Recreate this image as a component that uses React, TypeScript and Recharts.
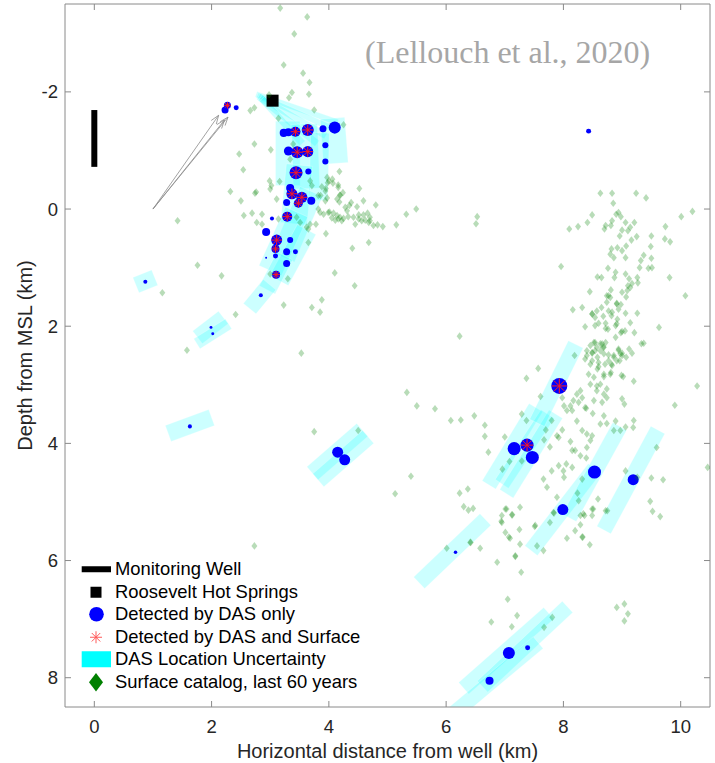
import React from "react";
import { ComposedChart, Scatter, XAxis, YAxis, ZAxis, ReferenceLine } from "recharts";

// detected events: x (km), depth (km), relative magnitude, also in surface catalog (1/0)
const dasEvents: [number, number, number, number][] = [
  [2.27, -1.77, 0.54, 1], [2.23, -1.69, 0.54, 0], [2.42, -1.73, 0.25, 0],
  [3.23, -1.3, 0.72, 0], [3.31, -1.31, 0.72, 0], [3.43, -1.32, 1.15, 1], [3.64, -1.35, 1.68, 1],
  [3.9, -1.37, 0.54, 0], [4.1, -1.39, 1.68, 0], [3.94, -1.09, 0.39, 0], [3.94, -0.81, 0.39, 0],
  [3.31, -0.99, 0.92, 0], [3.46, -0.97, 1.68, 1], [3.64, -0.98, 1.4, 1], [3.44, -0.62, 1.98, 1],
  [3.65, -0.64, 0.39, 0], [3.34, -0.36, 0.72, 0], [3.37, -0.26, 1.4, 1], [3.54, -0.2, 1.4, 1],
  [3.7, -0.14, 0.72, 0], [3.28, -0.11, 0.54, 0], [3.48, -0.1, 0.92, 1], [3.29, 0.13, 1.15, 1],
  [3.03, 0.16, 0.15, 0], [2.93, 0.39, 0.72, 0], [3.11, 0.53, 1.4, 1], [3.34, 0.53, 0.39, 0],
  [3.09, 0.68, 0.72, 1], [3.28, 0.73, 0.54, 0], [3.43, 0.73, 0.25, 0], [3.09, 0.8, 0.25, 0],
  [2.93, 0.83, 0.0, 0], [3.28, 0.93, 0.54, 0], [3.1, 1.12, 0.72, 1],
  [0.87, 1.24, 0.15, 0], [2.84, 1.47, 0.15, 0], [1.99, 2.02, 0.06, 0], [2.02, 2.13, 0.06, 0],
  [1.63, 3.71, 0.15, 0], [4.15, 4.15, 1.4, 0], [4.27, 4.28, 1.4, 0], [6.16, 5.86, 0.1, 0],
  [7.93, 3.02, 3.0, 1], [7.38, 4.03, 1.98, 1], [7.16, 4.09, 1.98, 0], [7.47, 4.24, 1.98, 0],
  [8.53, 4.49, 1.98, 0], [9.19, 4.62, 1.4, 0], [7.99, 5.13, 1.4, 0],
  [7.07, 7.58, 1.68, 0], [7.39, 7.49, 0.25, 0], [6.74, 8.05, 0.72, 0], [8.43, -1.33, 0.25, 0],
];

// DAS location uncertainty: centre line ends (km) and band width (km)
const uncertaintyBands: [number, number, number, number, number][] = [
  [2.76, -1.96, 4.15, -1.48, 0.1], [2.78, -1.94, 4.05, -1.38, 0.1], [2.8, -1.92, 3.95, -1.25, 0.12],
  [2.83, -1.9, 3.8, -1.12, 0.12], [2.86, -1.88, 3.55, -1.12, 0.12],
  [4.06, -1.55, 4.12, -0.78, 0.42], [3.3, -1.5, 3.3, -0.4, 0.42], [3.58, -1.45, 3.62, -0.35, 0.45],
  [3.85, -1.3, 3.82, -0.15, 0.32], [3.5, -0.75, 3.4, 0.25, 0.45], [3.7, -0.3, 3.22, 0.82, 0.42],
  [3.45, 0.05, 3.0, 1.05, 0.42], [3.62, 0.35, 3.15, 1.22, 0.36], [3.25, 0.8, 2.95, 1.38, 0.3],
  [0.71, 1.3, 1.03, 1.17, 0.28], [2.65, 1.7, 2.99, 1.29, 0.28], [1.76, 2.19, 2.2, 1.85, 0.27],
  [1.75, 2.3, 2.29, 1.96, 0.2], [1.26, 3.83, 2.0, 3.56, 0.29], [3.72, 4.51, 4.57, 3.77, 0.29],
  [3.82, 4.63, 4.67, 3.89, 0.29], [5.54, 6.38, 6.67, 5.3, 0.27], [6.73, 4.71, 7.53, 3.39, 0.27],
  [6.95, 4.69, 7.73, 3.5, 0.27], [7.03, 4.86, 7.87, 3.5, 0.27], [7.55, 3.65, 8.21, 2.31, 0.28],
  [7.45, 5.83, 8.53, 4.43, 0.27], [8.1, 5.27, 8.96, 3.71, 0.27], [8.69, 5.48, 9.61, 3.77, 0.27],
  [6.3, 8.18, 7.75, 6.9, 0.26], [6.62, 8.15, 8.07, 6.79, 0.26], [5.9, 8.8, 7.57, 7.4, 0.26],
];

const hotSprings: [number, number][] = [[3.04, -1.85]];
const wellTop = -1.69;
const wellBottom = -0.72;
const arrowStart: [number, number] = [1.0, 0.0];
const arrowEnds: [number, number][] = [[2.12, -1.6], [2.28, -1.57], [2.22, -1.52]];

// surface catalog, last 60 years
const catalogNorth: [number, number][] = [
  [3.17, -3.43], [3.63, -3.28], [3.41, -2.99], [3.23, -2.46], [3.56, -2.32], [3.67, -2.16],
  [3.37, -1.99], [3.32, -1.9], [3.66, -1.96], [2.98, -1.95], [3.75, -1.69], [2.73, -1.73],
  [2.66, -1.68], [3.14, -1.55], [4.25, -1.44], [2.73, -1.11], [2.47, -0.94], [2.54, -0.67],
  [3.01, -1.01], [3.39, -1.11], [3.34, -0.85], [4.18, -0.64], [2.99, -0.48], [3.16, -0.47],
];
const catalogWest: [number, number][] = [
  [2.32, -0.3], [2.5, -0.14], [2.76, -0.29], [2.74, -0.27], [2.69, 0.07], [2.55, 0.11],
  [2.77, 0.23], [1.42, 0.2], [2.86, 0.09], [2.86, 0.26], [3.02, -0.4], [3.0, -0.34],
  [3.11, -0.17], [3.14, 0.17], [3.45, 0.14], [1.76, 0.96], [2.17, 1.14], [1.16, 1.43],
  [2.41, 1.8], [1.58, 2.41], [3.0, 1.11], [3.3, 1.19], [3.23, 1.64], [3.71, 1.68],
  [3.85, 1.76], [3.88, 1.55], [3.53, 2.46], [2.73, 5.75],
];
const catalogStream: [number, number][] = [
  [3.97, -0.54], [4.06, -0.51], [3.98, -0.45], [4.07, -0.44], [4.16, -0.41], [4.52, -0.35],
  [3.94, -0.31], [3.95, -0.35], [3.86, -0.23], [3.97, -0.19], [4.19, -0.24], [4.24, -0.28],
  [4.18, -0.12], [4.59, -0.14], [4.8, -0.07], [4.38, -0.11], [4.35, -0.06], [4.28, -0.03],
  [4.31, 0.03], [4.48, -0.04], [5.49, 0.0], [5.32, 0.09], [3.85, 0.06], [3.91, 0.09],
  [4.01, 0.05], [4.08, 0.07], [4.14, 0.11], [4.19, 0.14], [4.25, 0.16], [4.33, 0.13],
  [4.42, 0.14], [4.51, 0.1], [4.59, 0.1], [4.66, 0.07], [4.7, 0.14], [4.68, 0.23],
  [4.76, 0.28], [4.83, 0.27], [4.92, 0.3], [5.15, 0.27], [4.05, 0.15], [4.11, 0.19],
  [4.16, 0.17], [4.22, 0.2], [4.51, 0.17], [4.56, 0.2], [4.62, 0.19], [4.7, 0.2],
  [3.62, 0.31], [3.65, 0.34], [3.78, 0.26], [4.45, 0.26], [3.95, 0.42], [3.65, 0.57],
  [4.4, 0.67], [4.68, 0.57], [4.1, 1.09], [4.44, 1.31], [3.82, 0.0], [3.99, 0.06],
  [3.68, 0.26], [3.51, 0.23], [4.0, -0.48], [3.88, -0.38], [4.14, -0.17], [3.94, -0.14],
  [4.19, -0.23], [4.16, -0.37], [3.82, -0.23], [3.68, -0.48], [3.71, -0.4],
];
const catalogEast: [number, number][] = [
  [6.53, 0.13], [6.51, 0.25], [6.23, 2.17], [8.63, -0.27], [8.83, -0.27], [9.24, -0.27],
  [9.41, -0.19], [8.85, -0.1], [8.49, 0.1], [8.41, 0.23], [8.25, 0.3], [8.1, 0.34],
  [8.94, 0.06], [8.98, 0.13], [8.9, 0.09], [8.83, 0.2], [8.81, 0.28], [8.7, 0.34],
  [8.72, 0.28], [9.06, 0.23], [9.1, 0.37], [9.0, 0.36], [9.14, 0.31], [9.21, 0.23],
  [9.16, 0.53], [9.25, 0.47], [9.5, 0.46], [9.74, 0.3], [9.73, 0.51], [9.82, 0.56],
  [10.01, 0.13], [10.2, 0.04], [8.96, 0.46], [8.82, 0.68], [8.92, 0.66], [9.0, 0.71],
  [9.07, 0.63], [9.49, 0.64], [8.8, 0.77], [8.86, 0.83], [9.06, 0.83], [9.5, 0.84],
  [9.32, 0.88], [9.37, 0.79], [9.51, 1.0], [9.3, 1.0], [8.76, 1.01], [8.89, 1.08],
  [8.87, 1.17], [8.65, 1.17], [8.58, 1.16], [9.06, 1.11], [9.12, 1.19], [9.17, 1.27],
  [9.26, 1.17], [9.27, 1.26], [9.45, 1.01], [9.81, 1.17], [9.1, 1.31], [9.0, 1.42],
  [8.77, 1.48], [8.81, 1.38], [8.45, 1.41], [7.96, 0.98], [10.08, 1.48], [8.74, 1.59],
  [8.91, 1.61], [8.94, 1.71], [9.06, 1.78], [8.98, 1.63], [8.77, 1.74], [8.57, 1.74],
  [8.68, 1.83], [8.65, 1.68], [8.32, 1.68], [8.16, 1.72], [8.49, 1.79], [8.82, 1.82],
  [8.92, 1.88], [9.26, 1.78], [9.63, 2.02], [9.14, 1.94], [8.54, 1.99], [8.37, 2.01],
  [8.72, 1.95], [8.89, 1.99], [8.98, 2.11], [9.05, 2.08], [8.76, 2.05], [9.21, 2.11],
  [9.33, 2.3], [9.12, 2.39], [9.17, 2.46], [9.0, 2.46], [9.07, 2.53], [8.86, 2.53],
  [8.94, 2.41], [8.96, 2.59], [8.66, 2.3], [8.69, 2.36], [8.63, 2.42], [8.54, 2.28],
  [8.46, 2.33], [8.4, 2.42], [8.49, 2.46], [8.77, 2.49], [8.82, 2.65], [8.71, 2.65],
  [8.58, 2.53], [8.6, 2.69], [8.37, 2.56], [8.46, 2.65], [8.19, 2.5], [7.57, 2.72],
  [7.37, 2.89], [9.14, 1.34], [9.09, 1.39], [9.07, 1.5], [8.91, 1.62], [8.83, 1.76],
  [8.74, 1.48], [8.8, 1.51], [9.37, 2.29], [9.0, 2.5], [8.99, 2.84], [8.6, 1.95],
  [8.54, 1.85], [8.49, 1.79], [8.72, 2.04], [8.91, 1.96], [9.0, 2.09], [8.89, 2.19],
  [8.52, 2.28], [8.57, 2.36], [8.63, 2.3], [8.68, 2.36], [8.72, 2.28], [8.49, 2.45],
  [8.54, 2.42], [8.4, 2.5], [8.49, 2.59], [8.6, 2.62], [8.69, 2.47], [8.77, 2.59],
  [8.86, 2.5], [8.83, 2.67], [8.91, 2.59], [8.94, 2.39], [8.97, 2.47], [8.81, 2.79],
  [8.69, 2.82], [8.58, 2.73], [8.43, 2.82], [8.52, 2.87],
];
const catalogSouth: [number, number][] = [
  [7.61, 3.2], [9.2, 2.94], [9.02, 2.86], [10.28, 3.02], [9.9, 3.35], [8.69, 2.86],
  [8.8, 2.82], [8.57, 3.02], [8.46, 2.99], [8.63, 2.99], [8.74, 3.07], [8.23, 3.16],
  [8.17, 3.27], [8.12, 3.36], [8.29, 3.1], [8.06, 3.44], [8.15, 3.44], [8.26, 3.3],
  [8.32, 3.22], [8.37, 3.39], [7.98, 3.22], [8.01, 3.36], [8.52, 3.27], [8.66, 3.3],
  [8.74, 3.22], [8.69, 3.16], [8.57, 3.1], [9.0, 3.24], [9.04, 3.33], [8.39, 3.4],
  [8.5, 3.49], [8.69, 3.53], [8.63, 3.67], [8.74, 3.66], [8.89, 3.62], [8.86, 3.78],
  [8.97, 3.78], [9.06, 3.72], [8.23, 3.62], [8.32, 3.78], [8.4, 3.84], [8.49, 3.87],
  [8.46, 3.95], [7.98, 3.77], [7.89, 3.87], [7.92, 3.9], [7.67, 3.94], [7.77, 4.06],
  [7.7, 3.77], [7.8, 3.61], [8.12, 3.97], [8.15, 4.12], [8.2, 4.12], [8.29, 4.21],
  [8.39, 4.25], [8.4, 4.07], [8.05, 4.35], [8.0, 4.47], [8.01, 4.58], [8.15, 4.41],
  [7.8, 4.47], [7.66, 4.61], [7.72, 4.75], [8.32, 4.61], [8.24, 4.85], [8.26, 4.98],
  [8.34, 5.2], [8.29, 5.23], [8.2, 5.49], [8.59, 4.95], [8.51, 5.12], [8.49, 5.23],
  [8.75, 5.15], [7.89, 4.92], [7.77, 5.35], [7.83, 5.18], [7.52, 5.4], [7.55, 5.75],
  [7.66, 5.83], [8.06, 5.62], [8.32, 5.6], [8.45, 5.73], [7.26, 5.09], [7.12, 5.22],
  [7.01, 5.12], [6.95, 5.23], [6.95, 5.35], [7.01, 5.52], [7.07, 5.6], [7.26, 5.72],
  [7.18, 5.92], [6.58, 5.79], [6.41, 5.69], [6.3, 5.08], [6.38, 5.14], [6.46, 5.11],
  [6.23, 4.85], [6.37, 4.78], [6.08, 3.61], [6.25, 3.6], [6.48, 3.53], [6.66, 3.69],
  [6.66, 3.88], [6.72, 4.15], [7.37, 3.61], [7.29, 3.5], [7.0, 3.89], [6.96, 4.44],
  [7.08, 4.31], [7.29, 4.3], [7.92, 4.38], [9.59, 4.07], [10.46, 4.41], [9.06, 4.47],
  [9.26, 4.58], [9.5, 4.59], [9.7, 4.62], [9.48, 4.99], [9.52, 5.16], [9.65, 5.25],
  [9.19, 3.73], [9.2, 3.61], [5.33, 3.13], [5.5, 3.36], [5.81, 3.41], [5.13, 4.86],
  [5.4, 4.56], [3.75, 3.8], [4.5, 3.78], [6.01, 5.79], [6.42, 5.69], [6.87, 6.03],
  [7.18, 5.93], [7.28, 6.2], [6.94, 5.33], [7.03, 5.12], [7.13, 5.22], [7.51, 5.42],
  [7.84, 5.19], [8.29, 5.39], [8.33, 5.6], [8.36, 5.23], [8.49, 5.12], [8.72, 5.15],
  [7.05, 6.66], [7.21, 6.94], [6.77, 7.05], [7.12, 7.13], [7.67, 7.14], [7.81, 6.97],
  [8.91, 6.8], [9.04, 6.74], [9.1, 6.91], [9.04, 7.03], [7.09, 5.62], [7.25, 5.47],
];

const xDomain: [number, number] = [-0.5, 10.5];
const yDomain: [number, number] = [-3.5, 8.5];
const xTicks = [0, 2, 4, 6, 8, 10];
const yTicks = [-2, 0, 2, 4, 6, 8];

const legendItems = [
  "Monitoring Well",
  "Roosevelt Hot Springs",
  "Detected by DAS only",
  "Detected by DAS and Surface",
  "DAS Location Uncertainty",
  "Surface catalog, last 60 years",
];

const AXIS = "#8a8a8a";
const TEXT = "#262626";

const toPts = (arr: [number, number][]) => arr.map(([x, y]) => ({ x, y }));
const eventPts = dasEvents.map(([x, y, m, both]) => ({ x, y, m, both }));
const bothPts = eventPts.filter((e) => e.both === 1);
const catalogPts = toPts([...catalogNorth, ...catalogWest, ...catalogStream, ...catalogEast, ...catalogSouth]);

const radiusOf = (p: any) => Math.sqrt(Math.max(p.size || 0, 0) / Math.PI);

const Dot = (p: any) => <circle cx={p.cx} cy={p.cy} r={radiusOf(p)} fill="#0000ff" />;

const Star = (p: any) => {
  const r = radiusOf(p) * 0.95;
  const lines = [0, 45, 90, 135].map((a) => {
    const t = (a * Math.PI) / 180;
    return (
      <line key={a} x1={p.cx - r * Math.cos(t)} y1={p.cy - r * Math.sin(t)}
        x2={p.cx + r * Math.cos(t)} y2={p.cy + r * Math.sin(t)} stroke="#ff1a1a" strokeWidth={1} />
    );
  });
  return <g>{lines}</g>;
};

const Square = (p: any) => <rect x={p.cx - 6} y={p.cy - 6} width={12} height={12} fill="#000" />;

const Diamond = (p: any) => (
  <polygon points={`${p.cx},${p.cy - 3.8} ${p.cx + 3},${p.cy} ${p.cx},${p.cy + 3.8} ${p.cx - 3},${p.cy}`}
    fill="#008000" fillOpacity={0.28} />
);

// inward tick marks on the top and right sides of the box
const topTick = (p: any) => {
  const y = Math.min(p.y1, p.y2);
  return <line x1={p.x1} x2={p.x1} y1={y} y2={y + 6} stroke={AXIS} />;
};
const rightTick = (p: any) => {
  const x = Math.max(p.x1, p.x2);
  return <line x1={x} x2={x - 6} y1={p.y1} y2={p.y1} stroke={AXIS} />;
};

function bandShape(w: number, lenKm: number) {
  return (p: any) => {
    const { x1, y1, x2, y2, clipPath } = p;
    const dx = x2 - x1;
    const dy = y2 - y1;
    const len = Math.hypot(dx, dy);
    if (!len) return <g />;
    const half = (len * w) / lenKm / 2;
    const nx = (-dy / len) * half;
    const ny = (dx / len) * half;
    const pts = [
      [x1 + nx, y1 + ny], [x2 + nx, y2 + ny], [x2 - nx, y2 - ny], [x1 - nx, y1 - ny],
    ].map((q) => q.join(",")).join(" ");
    return <polygon points={pts} fill="#00ffff" fillOpacity={0.2} stroke="#ffffff"
      strokeOpacity={0.5} strokeWidth={0.5} clipPath={clipPath} />;
  };
}

const arrowShape = (p: any) => {
  const { x1, y1, x2, y2 } = p;
  const a = Math.atan2(y2 - y1, x2 - x1);
  const h = 9;
  const s = 0.35;
  return (
    <g stroke="#8c8c8c" strokeWidth={0.8} fill="none">
      <line x1={x1} y1={y1} x2={x2} y2={y2} />
      <polyline points={`${x2 - h * Math.cos(a - s)},${y2 - h * Math.sin(a - s)} ${x2},${y2} ${x2 - h * Math.cos(a + s)},${y2 - h * Math.sin(a + s)}`} />
    </g>
  );
};

function LegendIcon({ i }: { i: number }) {
  return (
    <svg width={32} height={22.5} style={{ display: "block", flex: "none" }}>
      {i === 0 && <line x1={1.7} x2={31} y1={11.25} y2={11.25} stroke="#000" strokeWidth={6} />}
      {i === 1 && <rect x={10.5} y={5.75} width={11} height={11} fill="#000" />}
      {i === 2 && <circle cx={16.5} cy={11.25} r={7.3} fill="#0000ff" />}
      {i === 3 &&
        [0, 45, 90, 135].map((a) => {
          const t = (a * Math.PI) / 180;
          return <line key={a} x1={16 - 6 * Math.cos(t)} y1={11.25 - 6 * Math.sin(t)}
            x2={16 + 6 * Math.cos(t)} y2={11.25 + 6 * Math.sin(t)} stroke="#ff5a5a" strokeWidth={1} />;
        })}
      {i === 4 && <rect x={1.7} y={3.25} width={29.3} height={16} fill="#00ffff" />}
      {i === 5 && <polygon points="16,1.9 23,11.25 16,20.6 9,11.25" fill="#008000" />}
    </svg>
  );
}

export default function App() {
  return (
    <div style={{ position: "absolute", left: 0, top: 0, width: 715, height: 763, background: "#fff",
      fontFamily: "'Liberation Sans', Arial, Helvetica, sans-serif" }}>
      <ComposedChart width={715} height={763} margin={{ top: 4, right: 5, bottom: 0, left: 0 }}>
        <XAxis type="number" dataKey="x" domain={xDomain} ticks={xTicks} allowDataOverflow
          height={56} tickSize={-6} tickMargin={19} axisLine={{ stroke: AXIS }} tickLine={{ stroke: AXIS }}
          tick={{ fontSize: 18.5, fill: TEXT }}
          label={{ value: "Horizontal distance from well (km)", position: "insideBottom", offset: 5.5, fontSize: 20, fill: TEXT }} />
        <YAxis type="number" dataKey="y" reversed domain={yDomain} ticks={yTicks} allowDataOverflow
          width={65} tickSize={-6} tickMargin={13} axisLine={{ stroke: AXIS }} tickLine={{ stroke: AXIS }}
          tick={{ fontSize: 18.5, fill: TEXT }}
          label={{ value: "Depth from MSL (km)", angle: -90, position: "center", dx: -7.5, fontSize: 20, fill: TEXT }} />
        <ZAxis type="number" dataKey="m" domain={[0, 3]} range={[3, 201]} />

        {uncertaintyBands.map(([x1, y1, x2, y2, w], i) => (
          <ReferenceLine key={`band${i}`} segment={[{ x: x1, y: y1 }, { x: x2, y: y2 }]} ifOverflow="hidden"
            shape={bandShape(w, Math.hypot(x2 - x1, y2 - y1))} />
        ))}
        <ReferenceLine segment={[{ x: 0, y: wellTop }, { x: 0, y: wellBottom }]} stroke="#000" strokeWidth={6} ifOverflow="visible" />
        {arrowEnds.map(([x, y], i) => (
          <ReferenceLine key={`arrow${i}`} segment={[{ x: arrowStart[0], y: arrowStart[1] }, { x, y }]}
            ifOverflow="visible" shape={arrowShape} />
        ))}

        <ReferenceLine y={yDomain[0]} stroke={AXIS} ifOverflow="visible" />
        <ReferenceLine x={xDomain[1]} stroke={AXIS} ifOverflow="visible" />
        {xTicks.map((t) => (
          <ReferenceLine key={`tt${t}`} x={t} ifOverflow="visible" shape={topTick} />
        ))}
        {yTicks.map((t) => (
          <ReferenceLine key={`rt${t}`} y={t} ifOverflow="visible" shape={rightTick} />
        ))}

        <Scatter name="Roosevelt Hot Springs" data={toPts(hotSprings)} shape={Square} isAnimationActive={false} />
        <Scatter name="Detected by DAS only" data={eventPts} shape={Dot} isAnimationActive={false} />
        <Scatter name="Detected by DAS and Surface" data={bothPts} shape={Star} isAnimationActive={false} />
        <Scatter name="Surface catalog" data={catalogPts} shape={Diamond} isAnimationActive={false} />
      </ComposedChart>

      <div style={{ position: "absolute", left: 365, top: 32, fontFamily: "'Liberation Serif', 'Times New Roman', serif",
        fontSize: 32, color: "#a6a6a6", whiteSpace: "nowrap", lineHeight: "40px" }}>
        (Lellouch et al., 2020)
      </div>

      <div style={{ position: "absolute", left: 80, top: 558 }}>
        {legendItems.map((t, i) => (
          <div key={t} style={{ display: "flex", alignItems: "center", height: 22.5 }}>
            <LegendIcon i={i} />
            <span style={{ marginLeft: 3, fontSize: 18.4, color: "#000", whiteSpace: "nowrap" }}>{t}</span>
          </div>
        ))}
      </div>
    </div>
  );
}
